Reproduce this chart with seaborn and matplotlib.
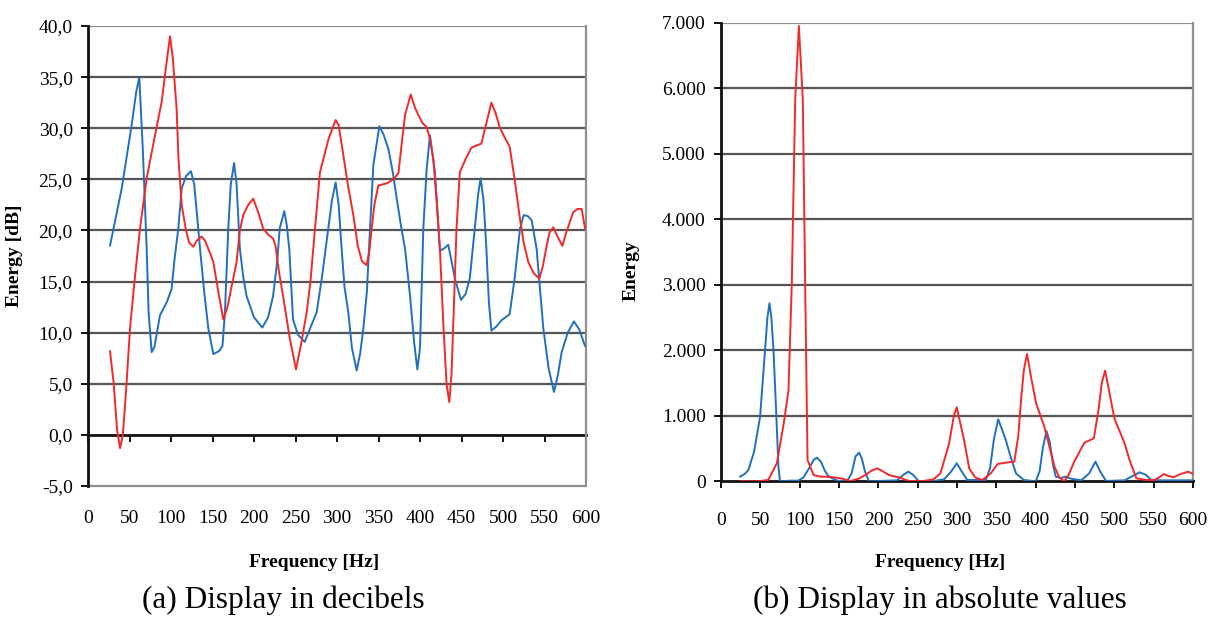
import numpy as np
import pandas as pd
import matplotlib
matplotlib.use("Agg")
import matplotlib.pyplot as plt
import seaborn as sns

# ---------------- data ----------------
# (a) decibels
f_blue_db = [26.5, 40.6, 52.6, 58, 61.8, 66, 70.7, 73, 76.7, 80, 86.7, 95, 100.8, 104, 108.8,
             112.9, 118, 124, 128, 135, 140, 145, 151, 158, 162, 165, 169, 172, 176, 179,
             183, 187, 191, 200, 210, 217, 223, 228, 231, 236.5, 239.5, 242.5, 247, 253,
             261, 268, 275.5, 282, 289.5, 294, 298.4, 302, 305.6, 309, 313.6, 318, 323.7,
             328, 331.7, 336, 339.8, 343.8, 351, 356, 361.8, 367, 372, 377, 382, 388, 393,
             396.8, 400, 404, 408, 412, 418, 424, 430, 434, 438, 442, 449.4, 455, 460, 466,
             470, 473, 476.5, 480, 483, 486, 492, 498, 508, 514, 520.5, 525, 530, 534.5,
             540.5, 548.6, 555, 561.4, 566, 570.7, 578, 585.5, 592, 598.8]
blue_db = [18.5, 24.1, 30.3, 33.5, 35.0, 28.0, 18.2, 12.0, 8.1, 8.6, 11.7, 13.0, 14.3, 17.0, 20.2,
           24.1, 25.3, 25.8, 24.5, 18.2, 14.0, 10.4, 7.9, 8.2, 8.7, 12.0, 20.2, 24.5, 26.6, 24.5,
           18.2, 15.5, 13.6, 11.5, 10.5, 11.5, 13.6, 17.0, 20.2, 21.9, 20.5, 18.2, 11.3, 9.8,
           9.1, 10.5, 12.0, 15.5, 20.2, 23.0, 24.7, 22.5, 18.2, 14.5, 12.0, 8.5, 6.3,
           8.0, 10.4, 14.0, 20.2, 26.4, 30.2, 29.4, 28.0, 25.8, 23.1, 20.5, 18.2, 13.6, 9.0,
           6.4, 8.5, 20.2, 26.0, 29.3, 25.7, 18.0, 18.3, 18.6, 17.0, 15.3, 13.2, 13.8, 15.3, 20.2,
           23.5, 25.1, 23.0, 18.2, 13.0, 10.2, 10.6, 11.2, 11.8, 15.3, 20.2, 21.5, 21.4, 21.0,
           18.2, 10.4, 6.5, 4.2, 5.8, 8.1, 10.0, 11.1, 10.3, 8.7]

f_red_db = [26.5, 31, 35, 38.6, 42, 46, 50.6, 56, 62.7, 70.7, 80, 88.8, 94, 98.8, 102, 106.8,
            109, 112.9, 118, 122, 126.9, 131, 136.9, 141, 147, 151, 157, 163, 168, 173, 179,
            183, 187, 193, 199, 205, 211, 217, 223, 226, 230, 235, 243, 250.6, 257, 263.5,
            268, 273.5, 279.5, 290, 298.4, 302, 307.6, 313, 319.7, 325, 330, 335.7, 339,
            341.8, 345, 349.8, 359.8, 368, 374, 378, 382, 388.8, 394, 398, 403, 408, 412,
            416, 420, 424, 428, 432, 435.3, 438, 441, 444, 448, 455, 462, 468, 474, 480, 486,
            491, 496, 502, 508, 514, 520.5, 525, 530.5, 537, 543.8, 548, 552.6, 556, 560.6,
            565, 571.5, 577, 584.7, 590, 594.8, 598.8]
red_db = [8.2, 5.0, 0.5, -1.3, 0.0, 4.5, 10.4, 15.0, 20.2, 25.1, 29.0, 32.6, 36.0, 39.0, 37.0, 31.9,
          27.0, 22.5, 20.0, 18.8, 18.4, 19.0, 19.4, 19.0, 17.8, 16.9, 14.0, 11.3, 12.5, 14.5, 16.9,
          20.0, 21.5, 22.5, 23.1, 21.8, 20.2, 19.6, 19.2, 18.5, 16.0, 13.6, 9.5, 6.4, 9.0, 12.0,
          15.0, 20.2, 25.7, 29.0, 30.8, 30.3, 27.4, 24.5, 21.5, 18.5, 17.0, 16.6, 18.0,
          20.2, 22.5, 24.4, 24.6, 25.0, 25.6, 28.5, 31.3, 33.3, 32.0, 31.3, 30.5, 30.1, 29.0,
          27.0, 23.0, 18.2, 11.0, 5.0, 3.2, 6.0, 13.0, 20.2, 25.7, 27.0, 28.1, 28.3, 28.5, 30.5, 32.5,
          31.5, 30.1, 29.1, 28.2, 25.0, 21.1, 18.8, 16.9, 15.8, 15.3, 16.5, 18.5, 19.8, 20.3,
          19.5, 18.5, 20.0, 21.8, 22.1, 22.1, 20.2]

# (b) absolute values
f_blue_abs = [24, 30, 34.8, 42, 49.7, 56, 59, 61.6, 64, 66.7, 70, 73, 75, 88, 98.3, 105, 112, 118,
              122, 127, 132, 137, 148, 160, 166, 171, 175.6, 179, 183, 188, 224, 232, 238, 244,
              251.5, 270, 283.5, 292, 299.7, 306, 313, 336.7, 342, 347, 352.4, 357, 362, 368,
              375, 385, 400, 405, 409, 413.7, 418, 422, 425.6, 432, 438, 445, 458, 468, 476,
              482, 489.5, 513, 520, 532, 540, 547, 560, 600]
blue_abs = [70, 110, 172, 450, 986, 2005, 2500, 2717, 2500, 2005, 1100, 223, 0, 10, 10, 60, 200, 330,
            360, 300, 160, 70, 10, 0, 120, 380, 437, 350, 150, 0, 15, 100, 147, 100,
            0, 5, 30, 140, 275, 150, 20, 20, 200, 650, 946, 800, 630, 380,
            120, 20, 0, 150, 500, 768, 600, 250, 70, 50, 70, 40, 15, 120, 300,
            150, 5, 15, 60, 137, 100, 20, 15, 15]

f_red_abs = [24, 47, 60, 71, 80, 85.8, 90, 94.3, 99, 104, 107, 110, 117.7, 127, 137, 152, 164.5,
             175, 183.6, 191, 198.5, 206, 213.4, 226, 239, 257, 270, 279, 290, 296, 299.7, 304,
             309, 315.5, 323, 332.5, 343, 351.6, 362, 372.9, 378, 381.4, 385, 389, 394, 400.5,
             411, 417, 424, 430, 436.5, 442, 449, 462, 474, 480, 484, 488.3, 493, 500, 513,
             520, 528, 540, 551, 557, 563, 569, 575, 584, 594, 600]
red_abs = [0, 0, 20, 275, 900, 1394, 3023, 5821, 6951, 5821, 3023, 325, 96, 70, 70, 46, 5,
           40, 96, 160, 198, 150, 96, 60, 5, 4, 30, 122, 580, 1000, 1130, 900,
           630, 198, 60, 20, 122, 264, 285, 300, 700, 1241, 1700, 1943, 1600, 1191,
           834, 550, 223, 60, 0, 100, 300, 590, 656, 1100, 1500, 1689, 1400, 962, 580,
           300, 46, 20, 20, 60, 111, 80, 61, 110, 147, 111]

x_ticks = [0, 50, 100, 150, 200, 250, 300, 350, 400, 450, 500, 550, 600]
x_tick_labels = ["0", "50", "100", "150", "200", "250", "300", "350", "400", "450", "500", "550", "600"]
db_ticks = [-5, 0, 5, 10, 15, 20, 25, 30, 35, 40]
db_tick_labels = ["-5,0", "0,0", "5,0", "10,0", "15,0", "20,0", "25,0", "30,0", "35,0", "40,0"]
abs_ticks = [0, 1000, 2000, 3000, 4000, 5000, 6000, 7000]
abs_tick_labels = ["0", "1.000", "2.000", "3.000", "4.000", "5.000", "6.000", "7.000"]

BLUE = "#2170bd"
RED = "#f2292b"
GRID = "#555555"
BORDER = "#8e8e8e"

sns.set_theme(style="white")
plt.rcParams["font.family"] = ["Liberation Serif", "DejaVu Serif"]
plt.rcParams["text.color"] = "black"
plt.rcParams["axes.labelcolor"] = "black"
plt.rcParams["xtick.color"] = "black"
plt.rcParams["ytick.color"] = "black"
plt.rcParams["lines.solid_joinstyle"] = "round"

fig = plt.figure(figsize=(12.11, 6.21), dpi=100)
W, H = 1211, 621
ax1 = fig.add_axes([88 / W, 1 - 486 / H, 498 / W, 460 / H])
ax2 = fig.add_axes([721 / W, 1 - 481.3 / H, 472 / W, 458.6 / H])

TICK_FS = 14
LABEL_FS = 14

# ---------- (a) ----------
ax1.spines["bottom"].set_position(("data", 0))
sns.lineplot(x=f_blue_db, y=blue_db, ax=ax1, color=BLUE, linewidth=1.4, zorder=3)
sns.lineplot(x=f_red_db, y=red_db, ax=ax1, color=RED, linewidth=1.4, zorder=3)
ax1.set_xlim(0, 600)
ax1.set_ylim(-5, 40)
ax1.set_yticks(db_ticks)
ax1.set_yticklabels(db_tick_labels)
ax1.set_xticks(x_ticks)
ax1.set_xticklabels(x_tick_labels)
for v in db_ticks[2:-1]:
    ax1.axhline(v, color=GRID, lw=1.6, zorder=1)
ax1.axhline(40, color=BORDER, lw=1.6, zorder=1)
ax1.axhline(-5, color=BORDER, lw=1.6, zorder=1, clip_on=False)
ax1.spines["bottom"].set_color("#111111")
ax1.spines["bottom"].set_linewidth(2.0)
ax1.spines["bottom"].set_zorder(2)
ax1.spines["left"].set_color("#111111")
ax1.spines["left"].set_linewidth(2.0)
ax1.spines["top"].set_visible(False)
ax1.spines["right"].set_color(BORDER)
ax1.spines["right"].set_linewidth(1.6)
ax1.tick_params(axis="x", direction="out", length=5, width=1.4, color="#111111",
                pad=49, bottom=True, labelsize=TICK_FS, labelcolor="black")
ax1.tick_params(axis="y", direction="out", length=5, width=1.4, color="#111111",
                pad=6, left=True, labelsize=TICK_FS, labelcolor="black")
ax1.set_xlabel("Frequency [Hz]", fontsize=LABEL_FS, fontweight="bold", color="black")
ax1.set_ylabel("Energy [dB]", fontsize=LABEL_FS, fontweight="bold", color="black")
ax1.xaxis.set_label_coords(0.454, -0.148)
ax1.yaxis.set_label_coords(-0.1305, 0.5)

# ---------- (b) ----------
sns.lineplot(x=f_blue_abs, y=blue_abs, ax=ax2, color=BLUE, linewidth=1.4, zorder=3)
sns.lineplot(x=f_red_abs, y=red_abs, ax=ax2, color=RED, linewidth=1.4, zorder=3)
ax2.set_xlim(0, 600)
ax2.set_ylim(0, 7000)
ax2.set_yticks(abs_ticks)
ax2.set_yticklabels(abs_tick_labels)
ax2.set_xticks(x_ticks)
ax2.set_xticklabels(x_tick_labels)
for v in abs_ticks[1:-1]:
    ax2.axhline(v, color=GRID, lw=1.6, zorder=1)
ax2.axhline(7000, color=BORDER, lw=1.6, zorder=1)
ax2.spines["bottom"].set_color("#111111")
ax2.spines["bottom"].set_linewidth(2.0)
ax2.spines["left"].set_color("#111111")
ax2.spines["left"].set_linewidth(2.0)
ax2.spines["top"].set_visible(False)
ax2.spines["right"].set_color(BORDER)
ax2.spines["right"].set_linewidth(1.6)
ax2.tick_params(axis="x", direction="out", length=5, width=1.4, color="#111111",
                pad=17, bottom=True, labelsize=TICK_FS, labelcolor="black")
ax2.tick_params(axis="y", direction="out", length=5, width=1.4, color="#111111",
                pad=6, left=True, labelsize=TICK_FS, labelcolor="black")
ax2.set_xlabel("Frequency [Hz]", fontsize=LABEL_FS, fontweight="bold", color="black")
ax2.set_ylabel("Energy", fontsize=LABEL_FS, fontweight="bold", color="black")
ax2.xaxis.set_label_coords(0.464, -0.1585)
ax2.yaxis.set_label_coords(-0.1716, 0.46)

for ax in (ax1, ax2):
    ax.grid(False)
    ax.set_facecolor("white")

fig.text(283 / W, 1 - 600 / H, "(a) Display in decibels", ha="center", va="center",
         fontsize=22.5, color="black")
fig.text(940 / W, 1 - 600 / H, "(b) Display in absolute values", ha="center", va="center",
         fontsize=22.5, color="black")

fig.savefig("out.png", dpi=100, facecolor="white")
